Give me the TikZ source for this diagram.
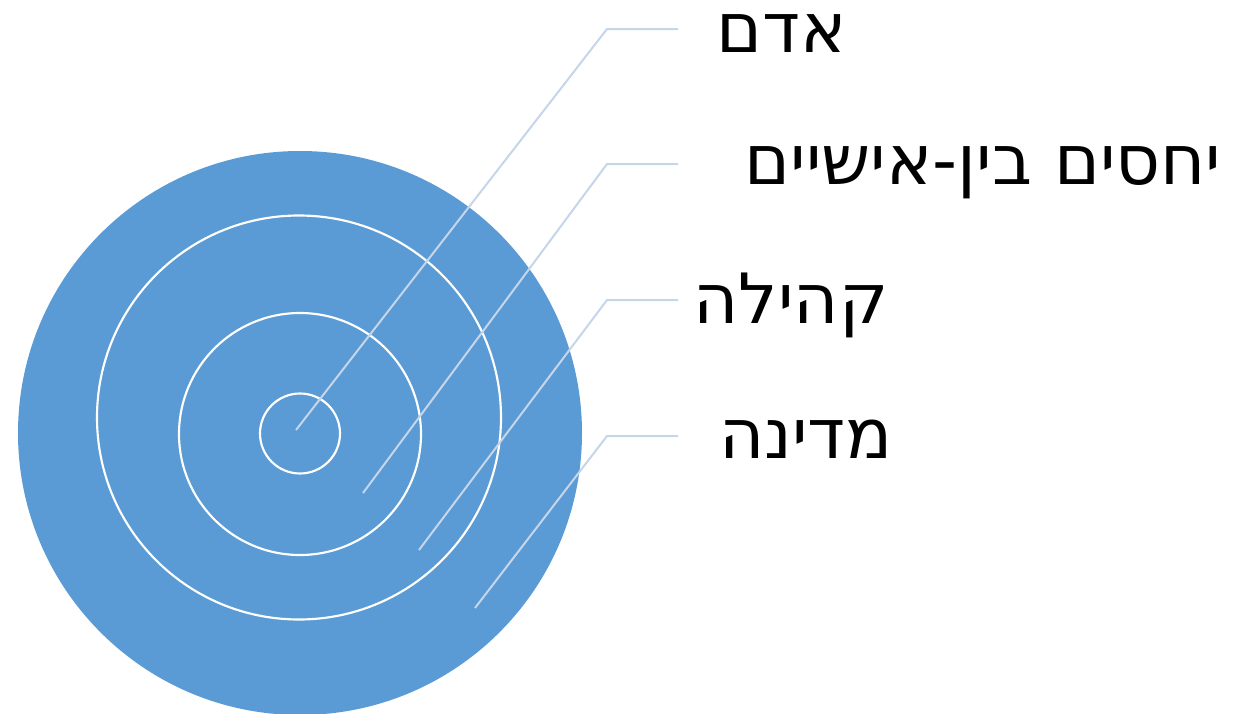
\documentclass[tikz,border=0pt]{standalone}
\usepackage{fontspec}
\TeXXeTstate=1
\newfontfamily\hebfont[Script=Hebrew]{DejaVu Sans}
\definecolor{discblue}{HTML}{5B9BD5}
\definecolor{leadblue}{HTML}{C5D5EA}
\begin{document}
\begin{tikzpicture}[x=0.75pt,y=-0.75pt,
  ring/.style={draw=white,line width=1.6pt},
  leader/.style={draw=leadblue,line width=1.5pt},
  label/.style={font=\hebfont\fontsize{52}{60}\selectfont,text=black,anchor=base,inner sep=0pt}]
\useasboundingbox (0,0) rectangle (1233,714);
\fill[discblue] (300,433) circle[radius=282];
\draw[ring] (299,417.5) circle[radius=202];
\draw[ring] (300,434) circle[radius=121];
\draw[ring] (300,433.5) circle[radius=40];
% leader coordinates
\coordinate (s1) at (296,430); \coordinate (k1) at (607,29);  \coordinate (e1) at (678,29);
\coordinate (s2) at (363,493); \coordinate (k2) at (607,164); \coordinate (e2) at (678,164);
\coordinate (s3) at (419,550); \coordinate (k3) at (607,300); \coordinate (e3) at (678,300);
\coordinate (s4) at (475,608); \coordinate (k4) at (607,436); \coordinate (e4) at (678,436);
\draw[leader] (s1) -- (k1) -- (e1);
\draw[leader] (s2) -- (k2) -- (e2);
\draw[leader] (s3) -- (k3) -- (e3);
\draw[leader] (s4) -- (k4) -- (e4);
\node[label] (t1) at (782,52) {\beginR אדם\endR};
\node[label] (t2) at (983,184) {\beginR יחסים בין-אישיים\endR};
\node[label] (t3) at (791,323) {\beginR קהילה\endR};
\node[label] (t4) at (806,458) {\beginR מדינה\endR};
\end{tikzpicture}
\end{document}
